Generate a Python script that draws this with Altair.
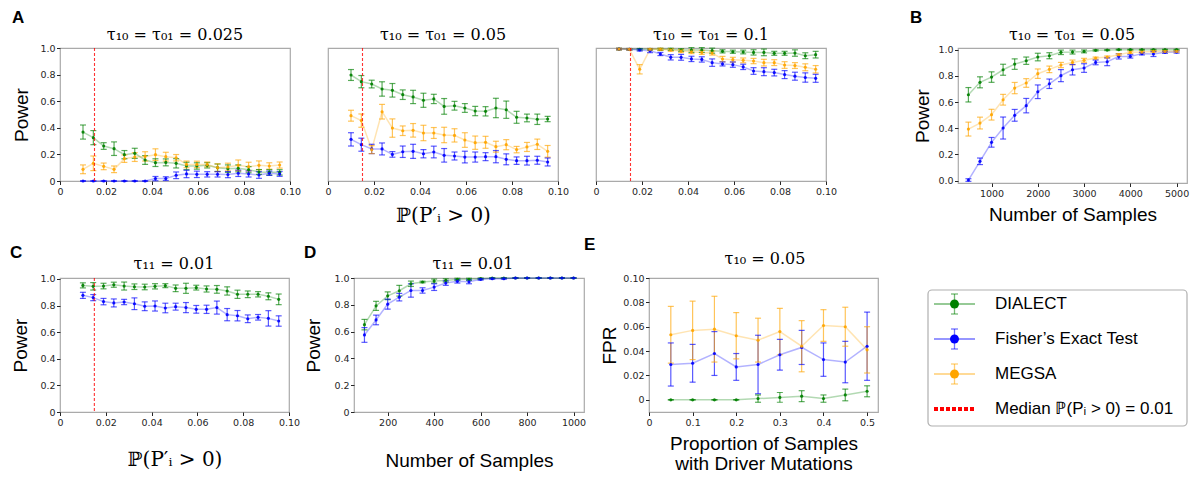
import altair as alt
import pandas as pd

METHODS = ["DIALECT", "Fisher’s Exact Test", "MEGSA"]
COLORS = ["green", "blue", "orange"]

# ---------------- data ----------------
P_X = [0.01, 0.0145, 0.019, 0.0235, 0.028, 0.0325, 0.037, 0.0415, 0.046, 0.0505,
       0.055, 0.0595, 0.064, 0.0685, 0.073, 0.0775, 0.082, 0.0865, 0.091, 0.0955]

A1_DIALECT = [0.368, 0.326, 0.263, 0.243, 0.198, 0.208, 0.158, 0.138, 0.140, 0.133,
              0.113, 0.113, 0.118, 0.100, 0.093, 0.095, 0.085, 0.068, 0.065, 0.065]
A1_DIALECT_ERR = [0.053, 0.053, 0.025, 0.051, 0.031, 0.038, 0.033, 0.029, 0.026, 0.035,
                  0.028, 0.024, 0.020, 0.028, 0.028, 0.026, 0.023, 0.018, 0.020, 0.020]
A1_FISHER = [0, 0, 0, 0, 0, 0, 0, 0.018, 0.018, 0.043,
             0.053, 0.050, 0.050, 0.050, 0.048, 0.058, 0.053, 0.045, 0.058, 0.053]
A1_FISHER_ERR = [0, 0, 0, 0, 0, 0, 0, 0.016, 0.014, 0.025,
                 0.028, 0.024, 0.020, 0.020, 0.023, 0.024, 0.023, 0.025, 0.016, 0.018]
A1_MEGSA = [0.088, 0.133, 0.110, 0.088, 0.168, 0.180, 0.185, 0.198, 0.183, 0.175,
            0.125, 0.125, 0.125, 0.100, 0.105, 0.118, 0.108, 0.118, 0.113, 0.120]
A1_MEGSA_ERR = [0.033, 0.055, 0.025, 0.025, 0.028, 0.033, 0.035, 0.044, 0.033, 0.024,
                0.025, 0.024, 0.018, 0.029, 0.029, 0.040, 0.033, 0.033, 0.024, 0.023]

A2_DIALECT = [0.797, 0.747, 0.729, 0.692, 0.682, 0.649, 0.632, 0.607, 0.617, 0.561,
              0.566, 0.549, 0.526, 0.524, 0.549, 0.536, 0.479, 0.474, 0.464, 0.466]
A2_DIALECT_ERR = [0.041, 0.046, 0.029, 0.054, 0.051, 0.036, 0.050, 0.053, 0.035, 0.059,
                  0.033, 0.033, 0.035, 0.035, 0.073, 0.065, 0.045, 0.029, 0.039, 0.020]
A2_FISHER = [0.313, 0.273, 0.241, 0.241, 0.200, 0.220, 0.223, 0.205, 0.218, 0.193,
             0.188, 0.180, 0.180, 0.183, 0.183, 0.163, 0.153, 0.153, 0.156, 0.143]
A2_FISHER_ERR = [0.050, 0.049, 0.035, 0.045, 0.021, 0.043, 0.053, 0.031, 0.044, 0.051,
                 0.030, 0.044, 0.038, 0.030, 0.046, 0.041, 0.028, 0.033, 0.030, 0.030]
A2_MEGSA = [0.491, 0.454, 0.236, 0.521, 0.398, 0.378, 0.381, 0.361, 0.361, 0.346,
            0.343, 0.308, 0.288, 0.291, 0.258, 0.273, 0.236, 0.256, 0.276, 0.223]
A2_MEGSA_ERR = [0.041, 0.050, 0.030, 0.055, 0.069, 0.036, 0.051, 0.058, 0.041, 0.058,
                0.050, 0.055, 0.050, 0.045, 0.041, 0.038, 0.024, 0.034, 0.039, 0.044]

A3_DIALECT = [0.992, 0.990, 0.990, 0.990, 0.990, 0.990, 0.985, 0.985, 0.985, 0.980,
              0.975, 0.972, 0.970, 0.967, 0.967, 0.960, 0.960, 0.962, 0.942, 0.950]
A3_DIALECT_ERR = [0.006, 0.006, 0.006, 0.006, 0.008, 0.008, 0.010, 0.018, 0.018, 0.019,
                  0.012, 0.012, 0.014, 0.020, 0.025, 0.015, 0.015, 0.024, 0.022, 0.025]
A3_FISHER = [0.992, 0.990, 0.985, 0.980, 0.955, 0.930, 0.930, 0.918, 0.914, 0.890,
             0.880, 0.875, 0.858, 0.827, 0.822, 0.815, 0.800, 0.788, 0.778, 0.772]
A3_FISHER_ERR = [0.005, 0.006, 0.008, 0.015, 0.012, 0.020, 0.022, 0.020, 0.020, 0.028,
                 0.015, 0.020, 0.020, 0.025, 0.030, 0.025, 0.030, 0.030, 0.035, 0.030]
A3_MEGSA = [0.992, 0.990, 0.840, 0.990, 0.990, 0.985, 0.977, 0.972, 0.967, 0.962,
            0.917, 0.912, 0.907, 0.902, 0.890, 0.890, 0.872, 0.868, 0.855, 0.840]
A3_MEGSA_ERR = [0.006, 0.006, 0.035, 0.006, 0.008, 0.010, 0.012, 0.014, 0.015, 0.015,
                0.020, 0.018, 0.018, 0.020, 0.025, 0.022, 0.025, 0.022, 0.026, 0.028]

B_X = [500, 750, 1000, 1250, 1500, 1750, 2000, 2250, 2500, 2750,
       3000, 3250, 3500, 3750, 4000, 4250, 4500, 4750, 5000]
B_DIALECT = [0.656, 0.751, 0.791, 0.847, 0.890, 0.916, 0.944, 0.954, 0.980, 0.982,
             0.987, 0.995, 0.997, 1.0, 1.0, 1.0, 1.0, 1.0, 1.0]
B_DIALECT_ERR = [0.055, 0.042, 0.040, 0.042, 0.040, 0.028, 0.029, 0.023, 0.017, 0.015,
                 0.011, 0.005, 0.004, 0.003, 0.003, 0.003, 0.003, 0.003, 0.003]
B_FISHER = [0.005, 0.148, 0.293, 0.402, 0.499, 0.573, 0.679, 0.740, 0.802, 0.847,
            0.860, 0.903, 0.908, 0.949, 0.949, 0.970, 0.967, 0.980, 0.982]
B_FISHER_ERR = [0.010, 0.025, 0.037, 0.084, 0.045, 0.055, 0.052, 0.036, 0.046, 0.040,
                0.033, 0.018, 0.030, 0.020, 0.013, 0.010, 0.019, 0.008, 0.008]
B_MEGSA = [0.394, 0.440, 0.504, 0.618, 0.707, 0.746, 0.817, 0.850, 0.883, 0.903,
           0.919, 0.936, 0.944, 0.962, 0.980, 0.982, 0.987, 0.987, 0.987]
B_MEGSA_ERR = [0.053, 0.045, 0.041, 0.041, 0.043, 0.033, 0.036, 0.025, 0.020, 0.018,
               0.015, 0.008, 0.008, 0.008, 0.010, 0.008, 0.006, 0.006, 0.006]

C_DIALECT = [0.952, 0.945, 0.947, 0.957, 0.947, 0.942, 0.940, 0.945, 0.950, 0.930,
             0.930, 0.935, 0.925, 0.922, 0.910, 0.885, 0.885, 0.885, 0.870, 0.847]
C_DIALECT_ERR = [0.019, 0.028, 0.021, 0.019, 0.030, 0.021, 0.021, 0.020, 0.015, 0.025,
                 0.038, 0.018, 0.023, 0.029, 0.031, 0.031, 0.025, 0.020, 0.026, 0.040]
C_FISHER = [0.877, 0.860, 0.830, 0.820, 0.827, 0.814, 0.795, 0.797, 0.782, 0.792,
            0.785, 0.772, 0.772, 0.785, 0.732, 0.724, 0.701, 0.712, 0.704, 0.684]
C_FISHER_ERR = [0.023, 0.023, 0.024, 0.030, 0.020, 0.044, 0.033, 0.038, 0.036, 0.026,
                0.038, 0.029, 0.031, 0.049, 0.046, 0.039, 0.029, 0.021, 0.058, 0.039]

D_X = [100, 150, 200, 250, 300, 350, 400, 450, 500, 550,
       600, 650, 700, 750, 800, 850, 900, 950, 1000]
D_DIALECT = [0.652, 0.792, 0.867, 0.905, 0.957, 0.970, 0.977, 0.982, 0.990, 0.990,
             0.995, 1.0, 1.0, 1.0, 1.0, 1.0, 1.0, 1.0, 1.0]
D_DIALECT_ERR = [0.039, 0.034, 0.029, 0.040, 0.020, 0.006, 0.015, 0.012, 0.008, 0.008,
                 0.005, 0.0, 0.0, 0.0, 0.0, 0.0, 0.0, 0.0, 0.0]
D_FISHER = [0.575, 0.687, 0.805, 0.857, 0.907, 0.907, 0.932, 0.962, 0.975, 0.972,
            0.990, 0.995, 0.995, 1.0, 1.0, 1.0, 1.0, 1.0, 1.0]
D_FISHER_ERR = [0.055, 0.036, 0.038, 0.028, 0.050, 0.020, 0.025, 0.017, 0.013, 0.015,
                0.006, 0.004, 0.004, 0.0, 0.0, 0.0, 0.0, 0.0, 0.0]

E_X = [0.05, 0.10, 0.15, 0.20, 0.25, 0.30, 0.35, 0.40, 0.45, 0.50]
E_DIALECT = [0.0, 0.0, 0.0, 0.0, 0.001, 0.002, 0.003, 0.001, 0.004, 0.007]
E_DIALECT_ERR = [0.0, 0.0, 0.0, 0.0, 0.003, 0.004, 0.0045, 0.003, 0.0048, 0.0045]
E_FISHER = [0.029, 0.030, 0.038, 0.027, 0.029, 0.037, 0.043, 0.033, 0.031, 0.044]
E_FISHER_ERR = [0.0177, 0.0155, 0.018, 0.011, 0.024, 0.0126, 0.014, 0.0137, 0.017, 0.028]
E_MEGSA = [0.0534, 0.057, 0.058, 0.0526, 0.049, 0.056, 0.044, 0.061, 0.060, 0.041]
E_MEGSA_ERR = [0.0233, 0.024, 0.027, 0.019, 0.018, 0.019, 0.021, 0.013, 0.016, 0.019]

MEDIAN_P = 0.015

P_TICKS = [0, 0.02, 0.04, 0.06, 0.08, 0.10]
POWER_TICKS = [0, 0.2, 0.4, 0.6, 0.8, 1.0]
B_TICKS = [1000, 2000, 3000, 4000, 5000]
D_TICKS = [200, 400, 600, 800, 1000]
E_XTICKS = [0, 0.1, 0.2, 0.3, 0.4, 0.5]
E_YTICKS = [0, 0.02, 0.04, 0.06, 0.08, 0.10]

LEG_METHODS = ["DIALECT", "Fisher’s Exact Test", "MEGSA"]
LEG_MEDIAN = ["Median ℙ(Pᵢ > 0) = 0.01"]

P_LABEL = "ℙ(P′ᵢ > 0)"
SERIF = "DejaVu Serif"
SANS = "Liberation Sans"


def series_df(xs, series):
    rows = []
    for name, (mean, err) in series.items():
        for x, m, e in zip(xs, mean, err):
            rows.append({"x": x, "method": name, "mean": m, "lo": m - e, "hi": m + e})
    return pd.DataFrame(rows)


def fmt_expr(fmt):
    if fmt is None:
        return "format(datum.value, 'd')"
    return f"datum.value == 0 ? '0' : format(datum.value, '{fmt}')"


def text_layer(txt, x, y, size, font, weight="normal", align="center"):
    return alt.Chart(pd.DataFrame({"t": [txt]})).mark_text(
        font=font, fontSize=size, fontWeight=weight, align=align,
        baseline="alphabetic", color="black"
    ).encode(text="t:N", x=alt.value(x), y=alt.value(y))


def panel(xs, series, width, height, xdom, ydom, xaxis, yaxis,
          title, title_dx, title_dy, label, label_dx, label_dy, median=None):
    df = series_df(xs, series)
    xsc = alt.Scale(domain=xdom, nice=False, zero=False)
    ysc = alt.Scale(domain=ydom, nice=False, zero=False)

    def X(f):
        return alt.X(f, type="quantitative", scale=xsc, axis=xaxis)

    def Y(f):
        return alt.Y(f, type="quantitative", scale=ysc, axis=yaxis)

    col = alt.Color("method:N", scale=alt.Scale(domain=METHODS, range=COLORS), legend=None)
    base = alt.Chart(df)
    layers = [
        base.mark_line(strokeWidth=1.5, opacity=0.3).encode(x=X("x"), y=Y("mean"), color=col),
        base.mark_rule(strokeWidth=1.2, opacity=0.65).encode(x=X("x"), y=Y("lo"), y2="hi", color=col),
        base.mark_tick(orient="horizontal", size=6, thickness=1.2, opacity=0.65).encode(
            x=X("x"), y=Y("lo"), color=col),
        base.mark_tick(orient="horizontal", size=6, thickness=1.2, opacity=0.65).encode(
            x=X("x"), y=Y("hi"), color=col),
        base.mark_point(filled=True, size=10, opacity=0.9).encode(x=X("x"), y=Y("mean"), color=col),
    ]
    if median is not None:
        layers.append(
            alt.Chart(pd.DataFrame({"x": [median]})).mark_rule(
                color="red", strokeDash=[3, 2], strokeWidth=1.1, opacity=0.8
            ).encode(x=X("x"))
        )
    layers.append(text_layer(title, title_dx, title_dy, 16, SERIF))
    if label:
        layers.append(text_layer(label, label_dx, label_dy, 17, SANS, "bold", "left"))
    return alt.layer(*layers).properties(width=width, height=height)


def x_axis(ticks, fmt, title=None, title_y=40, font=SANS, size=19):
    kw = dict(values=ticks, labelExpr=fmt_expr(fmt))
    if title is None:
        return alt.Axis(title=None, **kw)
    return alt.Axis(title=title, titleY=title_y, titleBaseline="alphabetic",
                    titleFont=font, titleFontSize=size, **kw)


def y_axis(ticks, fmt, title, title_x):
    return alt.Axis(values=ticks, labelExpr=fmt, title=title, titleX=title_x,
                    titleBaseline="alphabetic", titleAngle=270)


def spacer(w):
    return alt.Chart(pd.DataFrame({"v": [0]})).mark_point(opacity=0).encode(
        x=alt.value(0), y=alt.value(0)
    ).properties(width=w, height=1, view=alt.ViewBackground(stroke="transparent"))


three = lambda a, b, c: {METHODS[0]: a, METHODS[1]: b, METHODS[2]: c}

A1 = panel(P_X, three((A1_DIALECT, A1_DIALECT_ERR), (A1_FISHER, A1_FISHER_ERR), (A1_MEGSA, A1_MEGSA_ERR)),
           230, 133, [0, 0.1], [0, 1.0], x_axis(P_TICKS, ".2f"),
           y_axis(POWER_TICKS, fmt_expr(".1f"), "Power", -33),
           "τ₁₀ = τ₀₁ = 0.025", 115, -8, "A", -48, -25, MEDIAN_P)
A2 = panel(P_X, three((A2_DIALECT, A2_DIALECT_ERR), (A2_FISHER, A2_FISHER_ERR), (A2_MEGSA, A2_MEGSA_ERR)),
           230, 133, [0, 0.1], [0, 1.0], x_axis(P_TICKS, ".2f", P_LABEL, 40, SERIF, 20), None,
           "τ₁₀ = τ₀₁ = 0.05", 115, -8, None, 0, 0, MEDIAN_P)
A3 = panel(P_X, three((A3_DIALECT, A3_DIALECT_ERR), (A3_FISHER, A3_FISHER_ERR), (A3_MEGSA, A3_MEGSA_ERR)),
           230, 133, [0, 0.1], [0, 1.0], x_axis(P_TICKS, ".2f"), None,
           "τ₁₀ = τ₀₁ = 0.1", 115, -8, None, 0, 0, MEDIAN_P)
B = panel(B_X, three((B_DIALECT, B_DIALECT_ERR), (B_FISHER, B_FISHER_ERR), (B_MEGSA, B_MEGSA_ERR)),
          229, 135, [275, 5225], [-0.0176, 1.013],
          x_axis(B_TICKS, None, "Number of Samples", 37),
          y_axis(POWER_TICKS, "format(datum.value, '.1f')", "Power", -30),
          "τ₁₀ = τ₀₁ = 0.05", 114, -8, "B", -48, -25)

C = panel(P_X, {METHODS[0]: (C_DIALECT, C_DIALECT_ERR), METHODS[1]: (C_FISHER, C_FISHER_ERR)},
          229, 134, [0, 0.1], [0, 1.0075], x_axis(P_TICKS, ".2f", P_LABEL, 53, SERIF, 20),
          y_axis(POWER_TICKS, fmt_expr(".1f"), "Power", -34),
          "τ₁₁ = 0.01", 114, -9, "C", -50, -20, MEDIAN_P)
D = panel(D_X, {METHODS[0]: (D_DIALECT, D_DIALECT_ERR), METHODS[1]: (D_FISHER, D_FISHER_ERR)},
          230, 134, [55, 1045], [0, 1.0], x_axis(D_TICKS, None, "Number of Samples", 54),
          y_axis(POWER_TICKS, fmt_expr(".1f"), "Power", -35),
          "τ₁₁ = 0.01", 119, -9, "D", -50, -20)
E = panel(E_X, three((E_DIALECT, E_DIALECT_ERR), (E_FISHER, E_FISHER_ERR), (E_MEGSA, E_MEGSA_ERR)),
          229, 134, [0, 0.525], [-0.01, 0.1],
          alt.Axis(values=E_XTICKS, labelExpr=fmt_expr(".1f"),
                   title=["Proportion of Samples", "with Driver Mutations"], titleY=37,
                   titleBaseline="alphabetic", titleLineHeight=20),
          y_axis(E_YTICKS, fmt_expr(".2f"), "FPR", -34),
          "τ₁₀ = 0.05", 116, -14, "E", -65, -28)

# ---------------- legend panel ----------------
LEG_ALL = LEG_METHODS + LEG_MEDIAN
leg_df = pd.DataFrame({"label": LEG_ALL, "i": list(range(len(LEG_ALL)))})
lxs = alt.Scale(domain=[0, 1], range=[6, 47])
lys = alt.Scale(domain=[0, 3], range=[26, 131])
lcol = alt.Color("label:N", scale=alt.Scale(domain=LEG_METHODS, range=COLORS), legend=None)
LY = alt.Y("i:Q", scale=lys, axis=None)


def LX(v):
    return alt.XDatum(v, scale=lxs, axis=None, type="quantitative")


lbase = alt.Chart(leg_df)
lmeth = lbase.transform_filter("datum.i < 3")
lmed = lbase.transform_filter("datum.i == 3")
legend = alt.layer(
    alt.Chart(pd.DataFrame({"f": [0]})).mark_rect(
        fill="white", stroke="#b0b0b0", strokeWidth=1.2, cornerRadius=4
    ).encode(x=alt.value(0), x2=alt.value(259), y=alt.value(12), y2=alt.value(148)),
    lmeth.mark_rule(strokeWidth=1.3, opacity=0.55).encode(x=LX(0), x2=alt.X2Datum(1), y=LY, color=lcol),
    lmeth.mark_tick(orient="vertical", size=20, thickness=1.3, opacity=0.55).encode(
        x=LX(0.5), y=LY, color=lcol),
    lmeth.mark_tick(orient="horizontal", size=7, thickness=1.3, opacity=0.55, yOffset=-10).encode(
        x=LX(0.5), y=LY, color=lcol),
    lmeth.mark_tick(orient="horizontal", size=7, thickness=1.3, opacity=0.55, yOffset=10).encode(
        x=LX(0.5), y=LY, color=lcol),
    lmeth.mark_point(filled=True, size=80, opacity=1).encode(x=LX(0.5), y=LY, color=lcol),
    lmed.mark_rule(strokeWidth=4, strokeDash=[4, 2], color="red").encode(
        x=LX(0), x2=alt.X2Datum(1), y=LY),
    lbase.mark_text(align="left", baseline="middle", font=SANS, fontSize=17, color="black").encode(
        x=alt.value(67), y=LY, text="label:N"),
).properties(width=260, height=148, view=alt.ViewBackground(stroke="transparent"))

row1 = alt.hconcat(A1, spacer(38), A2, spacer(38), A3, spacer(132), B, spacing=0, bounds="flush")
row2 = alt.hconcat(C, spacer(65), D, spacer(65), E, spacer(50), legend, spacing=0, bounds="flush")

chart = alt.vconcat(row1, row2, spacing=9).properties(
    padding={"left": 1, "top": 0, "right": 0, "bottom": 0}
).configure_view(
    stroke="#aaaaaa", strokeWidth=1.2
).configure_axis(
    grid=False, domain=False, labelFont="DejaVu Sans", labelFontSize=9.5, labelColor="#262626",
    tickColor="#262626", tickSize=3.5, tickWidth=1, labelPadding=1.5, titleFont=SANS,
    titleFontSize=19, titleFontWeight="normal", titleColor="black", labelFlush=False,
    labelOverlap=False
)

chart.save("out.html", embed_options={"renderer": "svg", "actions": False})
